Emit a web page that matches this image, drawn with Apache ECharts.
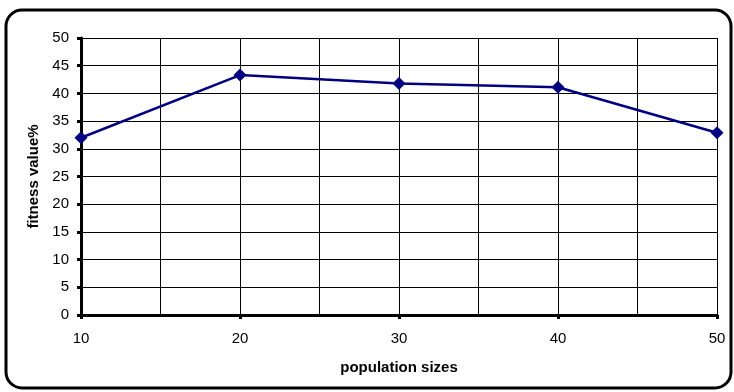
<!DOCTYPE html>
<html>
<head>
<meta charset="utf-8">
<script src="https://cdn.jsdelivr.net/npm/echarts@6/dist/echarts.min.js"></script>
<style>
  html, body { margin: 0; padding: 0; background: #fff; }
  #chart { width: 734px; height: 392px; }
</style>
</head>
<body>
<div id="chart"></div>
<script>
// Population size vs. fitness
const populationSizes = [10, 20, 30, 40, 50];
const fitnessValues = [32, 43.3, 41.8, 41.1, 32.9];

const chart = echarts.init(document.getElementById('chart'));
const font = '"Liberation Sans", Arial, sans-serif';

chart.setOption({
  animation: false,
  backgroundColor: '#fff',
  graphic: [{
    type: 'rect',
    shape: { x: 6, y: 10, width: 725, height: 378, r: 16 },
    style: { fill: 'none', stroke: '#000', lineWidth: 3 },
    silent: true
  }],
  grid: { left: 81, right: 17, top: 38, bottom: 77 },
  xAxis: {
    type: 'value',
    min: 10, max: 50, interval: 10,
    name: 'population sizes',
    nameLocation: 'middle',
    nameGap: 45,
    nameTextStyle: { fontFamily: font, fontSize: 15, fontWeight: 'bold', color: '#000' },
    axisLine: { show: true, onZero: false, lineStyle: { color: '#000', width: 3 } },
    axisTick: { show: true, length: 4, lineStyle: { color: '#000', width: 3 } },
    axisLabel: { fontFamily: font, fontSize: 15, color: '#000', margin: 16 },
    splitLine: { show: true, lineStyle: { color: '#000', width: 1 } },
    minorTick: { show: false, splitNumber: 2 },
    minorSplitLine: { show: true, lineStyle: { color: '#000', width: 1 } }
  },
  yAxis: {
    type: 'value',
    min: 0, max: 50, interval: 5,
    name: 'fitness value%',
    nameLocation: 'middle',
    nameGap: 36,
    nameTextStyle: { fontFamily: font, fontSize: 15, fontWeight: 'bold', color: '#000' },
    axisLine: { show: true, lineStyle: { color: '#000', width: 3 } },
    axisTick: { show: true, length: 4, lineStyle: { color: '#000', width: 3 } },
    axisLabel: { fontFamily: font, fontSize: 15, color: '#000', margin: 12 },
    splitLine: { show: true, lineStyle: { color: '#000', width: 1 } }
  },
  series: [{
    type: 'line',
    data: populationSizes.map((p, i) => [p, fitnessValues[i]]),
    symbol: 'diamond',
    symbolSize: 13,
    lineStyle: { color: '#000080', width: 2.5 },
    itemStyle: { color: '#000080' },
    z: 5
  }]
});
</script>
</body>
</html>
